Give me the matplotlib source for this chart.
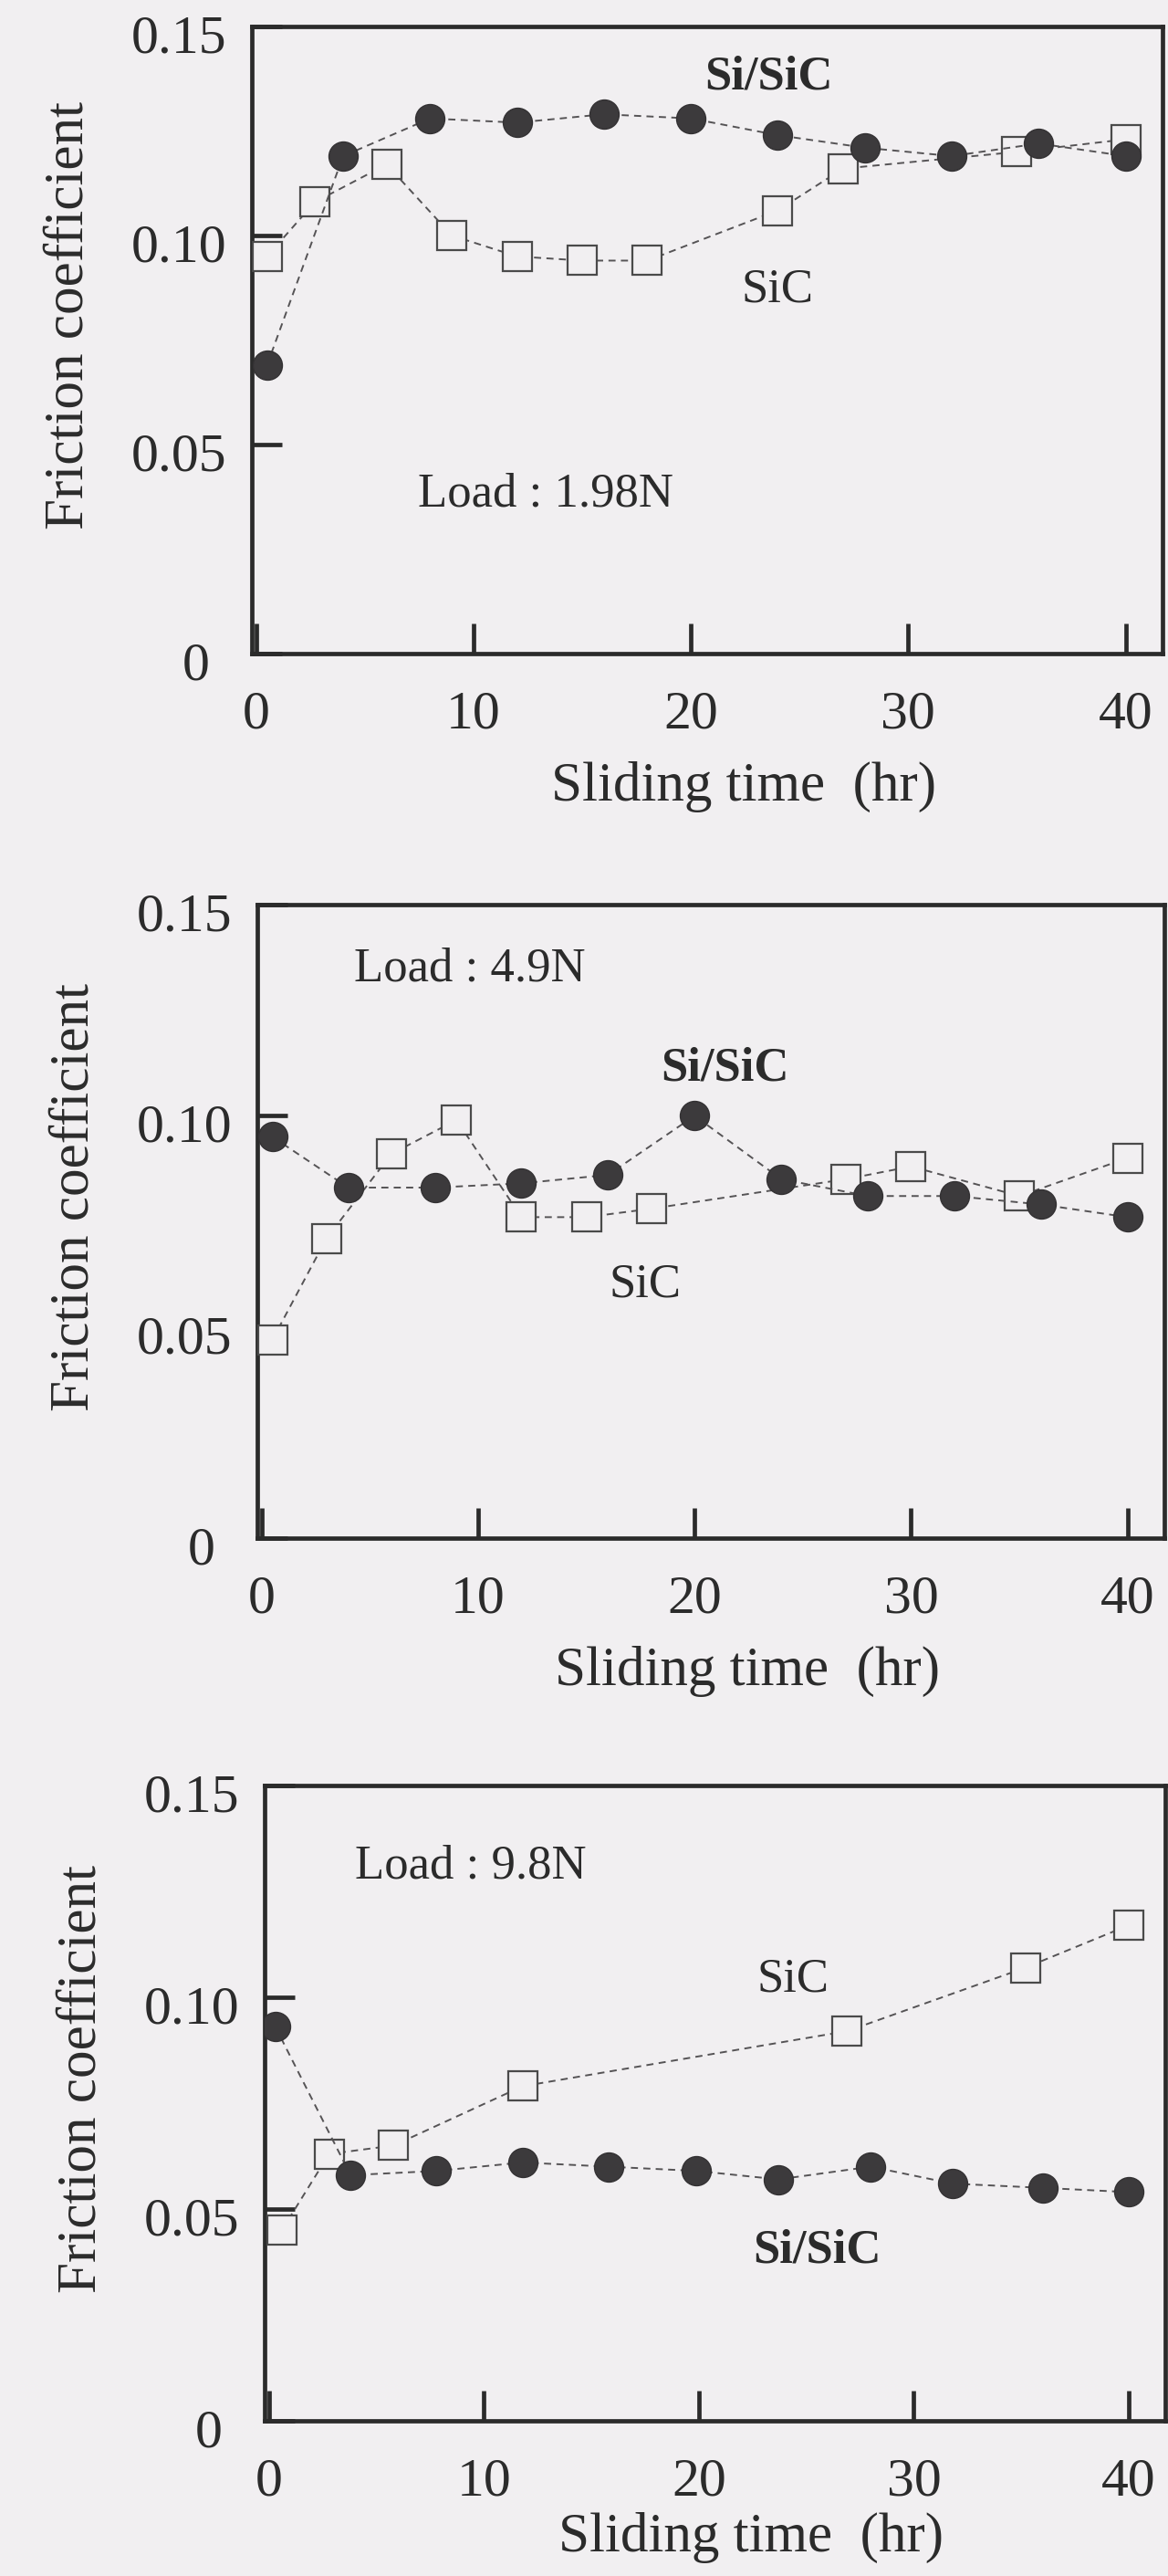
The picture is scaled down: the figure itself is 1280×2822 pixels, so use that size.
import matplotlib
matplotlib.use("Agg")
import matplotlib.pyplot as plt
from matplotlib.transforms import ScaledTranslation

plt.rcParams["font.family"] = ["Liberation Serif", "DejaVu Serif"]

# data (time in hr, friction coefficient)
loads = ["Load : 1.98N", "Load : 4.9N", "Load : 9.8N"]

p1_sisic_t = [0.5, 4, 8, 12, 16, 20, 24, 28, 32, 36, 40]
p1_sisic = [0.069, 0.119, 0.128, 0.127, 0.129, 0.128, 0.124, 0.121, 0.119, 0.122, 0.119]
p1_sic_t = [0.5, 2.7, 6, 9, 12, 15, 18, 24, 27, 35, 40]
p1_sic = [0.095, 0.108, 0.117, 0.100, 0.095, 0.094, 0.094, 0.106, 0.116, 0.120, 0.123]

p2_sisic_t = [0.5, 4, 8, 12, 16, 20, 24, 28, 32, 36, 40]
p2_sisic = [0.095, 0.083, 0.083, 0.084, 0.086, 0.100, 0.085, 0.081, 0.081, 0.079, 0.076]
p2_sic_t = [0.5, 3, 6, 9, 12, 15, 18, 27, 30, 35, 40]
p2_sic = [0.047, 0.071, 0.091, 0.099, 0.076, 0.076, 0.078, 0.085, 0.088, 0.081, 0.090]

p3_sisic_t = [0.3, 3.8, 7.8, 11.8, 15.8, 19.9, 23.7, 28, 31.8, 36, 40]
p3_sisic = [0.093, 0.058, 0.059, 0.061, 0.060, 0.059, 0.057, 0.060, 0.056, 0.055, 0.054]
p3_sic_t = [0.6, 2.8, 5.8, 11.8, 26.9, 35.2, 40]
p3_sic = [0.045, 0.063, 0.065, 0.079, 0.092, 0.107, 0.117]

x_ticks = [0, 10, 20, 30, 40]
y_ticks = [0, 0.05, 0.10, 0.15]
y_tick_labels = ["0", "0.05", "0.10", "0.15"]

BG = "#f1eff1"
INK = "#2b2b2b"

fig = plt.figure(figsize=(12.8, 28.22), dpi=100, facecolor=BG)

# axes boxes in pixels: left, top, right, bottom
boxes = [(276, 29, 1274, 716), (282, 991, 1276, 1685), (290, 1956, 1277, 2652)]
# x-label centre, pixels below the bottom spine
xlabel_drop = [146, 146, 128]

# label positions (data coords) for each panel: (si/sic), (sic), (load)
label_pos = [
    [(23.6, 0.1378), (24.0, 0.0869), (13.3, 0.038)],
    [(21.4, 0.1111), (17.7, 0.0599), (9.6, 0.1347)],
    [(25.5, 0.0403), (24.4, 0.1043), (9.4, 0.131)],
]

series = [
    (p1_sisic_t, p1_sisic, p1_sic_t, p1_sic),
    (p2_sisic_t, p2_sisic, p2_sic_t, p2_sic),
    (p3_sisic_t, p3_sisic, p3_sic_t, p3_sic),
]

for i, (st, sv, ct, cv) in enumerate(series):
    l, t, r, b = boxes[i]
    ax = fig.add_axes([l / 1280, 1 - b / 2822, (r - l) / 1280, (b - t) / 2822])
    ax.set_facecolor(BG)

    # SiC: open squares, drawn first so the circles sit on top
    ax.plot(ct, cv, linestyle="--", dashes=(4, 3), color="#555355", lw=1.4,
            marker="s", markersize=23, markerfacecolor=BG,
            markeredgecolor="#4a4a4a", markeredgewidth=1.6, zorder=3)
    # Si/SiC: filled circles
    ax.plot(st, sv, linestyle="--", dashes=(4, 3), color="#555355", lw=1.4,
            marker="o", markersize=23, markerfacecolor="#3c3a3c",
            markeredgecolor="#333133", markeredgewidth=1.0, zorder=4)

    ax.set_xlim(-0.2, 41.7)
    ax.set_ylim(0, 0.15)
    ax.set_xticks(x_ticks)
    ax.set_yticks(y_ticks)
    ax.set_yticklabels(y_tick_labels)

    for s in ax.spines.values():
        s.set_linewidth(3.4)
        s.set_color(INK)
    ax.tick_params(direction="in", length=24, width=3.4, color=INK,
                   labelsize=43, labelcolor=INK, top=False, right=False)
    ax.tick_params(axis="x", pad=29)
    ax.tick_params(axis="y", pad=20)

    # y labels sit a little below their ticks, the "0" further out
    for j, lab in enumerate(ax.get_yticklabels()):
        dx = -19 / 100 if j == 0 else 0
        lab.set_transform(lab.get_transform()
                          + ScaledTranslation(dx, -8 / 100, fig.dpi_scale_trans))

    ax.set_xlabel("Sliding time  (hr)", fontsize=44, color=INK)
    ax.set_ylabel("Friction coefficient", fontsize=44, color=INK)
    ax.xaxis.label.set_va("center")
    ax.yaxis.label.set_va("center")
    h = b - t
    ax.xaxis.set_label_coords(0.54, -xlabel_drop[i] / h)
    ax.yaxis.set_label_coords(-200 / (r - l), 0.5 + 27 / h)

    (sx, sy), (cx, cy), (lx, ly) = label_pos[i]
    ax.text(sx, sy, "Si/SiC", fontsize=38, fontweight="bold", color=INK,
            ha="center", va="center")
    ax.text(cx, cy, "SiC", fontsize=38, color=INK, ha="center", va="center")
    ax.text(lx, ly, loads[i], fontsize=38, color=INK, ha="center", va="center")

fig.savefig("out.png", dpi=100, facecolor=BG)
